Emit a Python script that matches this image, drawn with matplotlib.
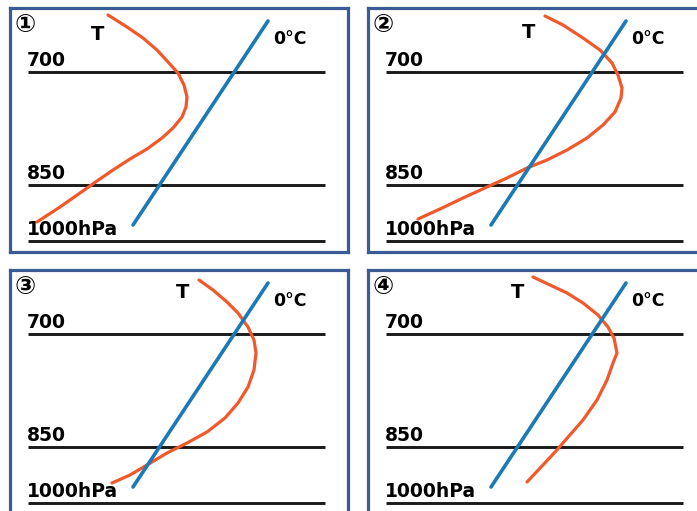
"""Four sketch panels: temperature profile (T) against the 0°C line."""

import matplotlib.pyplot as plt

plt.rcParams["font.family"] = ["DejaVu Sans", "Noto Sans CJK SC"]

# panel labels and level labels
panel_labels = ["①", "②", "③", "④"]
level_labels = ["700", "850", "1000hPa"]
level_y = [64, 177, 233]

# 0°C line (panel-local x, y), same in every panel
zero_x = [123, 258]
zero_y = [217, 13]

# temperature curves, panel-local coordinates
t1_x = [98, 117, 133, 147, 158, 168, 174, 177, 176, 172, 163, 152, 137, 120, 103, 87, 70, 50, 27]
t1_y = [7, 19, 30, 42, 54, 65, 77, 89, 99, 109, 120, 130, 141, 151, 162, 173, 185, 199, 214]

t2_x = [177, 195, 215, 232, 244, 250, 254, 253, 247, 235, 219, 199, 179, 159, 139, 119, 95, 72, 50]
t2_y = [8, 17, 30, 42, 55, 67, 80, 90, 104, 117, 130, 142, 152, 160, 170, 179, 190, 201, 211]

t3_x = [189, 203, 217, 228, 238, 244, 246, 244, 238, 228, 215, 197, 177, 157, 137, 120, 102]
t3_y = [10, 20, 32, 43, 57, 70, 83, 100, 117, 133, 148, 162, 173, 183, 195, 205, 213]

t4_x = [165, 182, 199, 215, 230, 240, 246, 249, 245, 239, 229, 215, 201, 188, 175, 159]
t4_y = [7, 15, 23, 33, 45, 57, 68, 83, 93, 110, 130, 150, 166, 181, 195, 212]

t_curves = [(t1_x, t1_y), (t2_x, t2_y), (t3_x, t3_y), (t4_x, t4_y)]
t_label_x = [88, 161, 173, 150]
t_label_y = [26, 25, 22, 22]

W, H = 697, 511
PW, PH = 338, 244
origins = [(10, 8), (368, 8), (10, 270), (368, 270)]

fig = plt.figure(figsize=(W / 100, H / 100), dpi=100)
fig.patch.set_facecolor("white")

for i, (ox, oy) in enumerate(origins):
    ax = fig.add_axes([ox / W, 1 - (oy + PH) / H, PW / W, PH / H])
    ax.set_xlim(0, PW)
    ax.set_ylim(PH, 0)
    ax.set_xticks([])
    ax.set_yticks([])
    for sp in ax.spines.values():
        sp.set_color("#3b5b94")
        sp.set_linewidth(2.3)

    for lab, y in zip(level_labels, level_y):
        ax.plot([18, 315], [y, y], color="#1a1a1a", lw=2.1, solid_capstyle="butt")
        ax.text(17, y - 2, lab, fontsize=13.5, fontweight="bold", ha="left", va="bottom")

    tx, ty = t_curves[i]
    ax.plot(tx, ty, color="#f0592a", lw=2.3, solid_joinstyle="round",
            solid_capstyle="round")
    ax.plot(zero_x, zero_y, color="#1b79b5", lw=2.6, solid_capstyle="round")

    ax.text(t_label_x[i], t_label_y[i], "T", fontsize=14, fontweight="bold",
            ha="center", va="center")
    ax.text(263, 31, "0°C", fontsize=12.5, fontweight="bold", ha="left", va="center")
    ax.text(5, 17, panel_labels[i], fontsize=18, fontweight="bold",
            ha="left", va="center")

fig.savefig("out.png", dpi=100)
